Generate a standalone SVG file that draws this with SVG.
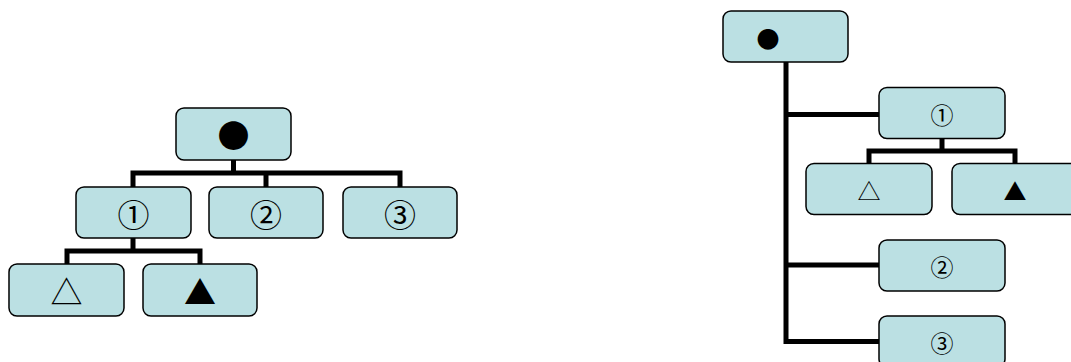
<svg xmlns="http://www.w3.org/2000/svg" width="1071" height="362" viewBox="0 0 1071 362">
<style>
.box{fill:#BBE0E3;stroke:#000;stroke-width:1.5}
.c{fill:none;stroke:#000;stroke-width:5;stroke-linecap:square;stroke-linejoin:miter}
.t{font-family:"Noto Sans CJK JP","DejaVu Sans",sans-serif;text-anchor:middle;dominant-baseline:central;fill:#000}
.L{font-size:32px}
.R{font-size:23px}
</style>
<rect width="1071" height="362" fill="#fff"/>
<g id="connectors">
<path class="c" d="M233.5,160V173M133,187V173H400V187M266,173V187"/>
<path class="c" d="M133,238V251M67,264V251H200V264"/>
<path class="c" d="M786,62V341.5H879M786,114.5H879M786,265H879"/>
<path class="c" d="M942,138V151M869,163V151H1015V163"/>
</g>
<g id="L-root"><rect class="box" x="176" y="108" width="115" height="52" rx="8"/><text class="t L" x="233.5" y="134">●</text></g>
<g id="L-1"><rect class="box" x="76" y="187" width="115" height="51" rx="8"/><text class="t L" x="133.5" y="213">①</text></g>
<g id="L-2"><rect class="box" x="209" y="187" width="114" height="51" rx="8"/><text class="t L" x="266" y="213">②</text></g>
<g id="L-3"><rect class="box" x="343" y="187" width="114" height="51" rx="8"/><text class="t L" x="400" y="213">③</text></g>
<g id="L-a"><rect class="box" x="9" y="264" width="115" height="52" rx="8"/><text class="t L" x="66.5" y="290">△</text></g>
<g id="L-b"><rect class="box" x="143" y="264" width="114" height="52" rx="8"/><text class="t L" x="200" y="290">▲</text></g>
<g id="R-root"><rect class="box" x="723" y="11" width="125" height="51" rx="8"/><text class="t R" x="768" y="38">●</text></g>
<g id="R-1"><rect class="box" x="879" y="87.5" width="126" height="51" rx="8"/><text class="t R" x="942" y="114">①</text></g>
<g id="R-a"><rect class="box" x="806" y="163.5" width="126" height="51" rx="8"/><text class="t R" x="869" y="190">△</text></g>
<g id="R-b"><rect class="box" x="952" y="163.5" width="126" height="51" rx="8"/><text class="t R" x="1015" y="190">▲</text></g>
<g id="R-2"><rect class="box" x="879" y="240" width="126" height="51" rx="8"/><text class="t R" x="942" y="266">②</text></g>
<g id="R-3"><rect class="box" x="879" y="316" width="126" height="51" rx="8"/><text class="t R" x="942" y="342">③</text></g>
</svg>
